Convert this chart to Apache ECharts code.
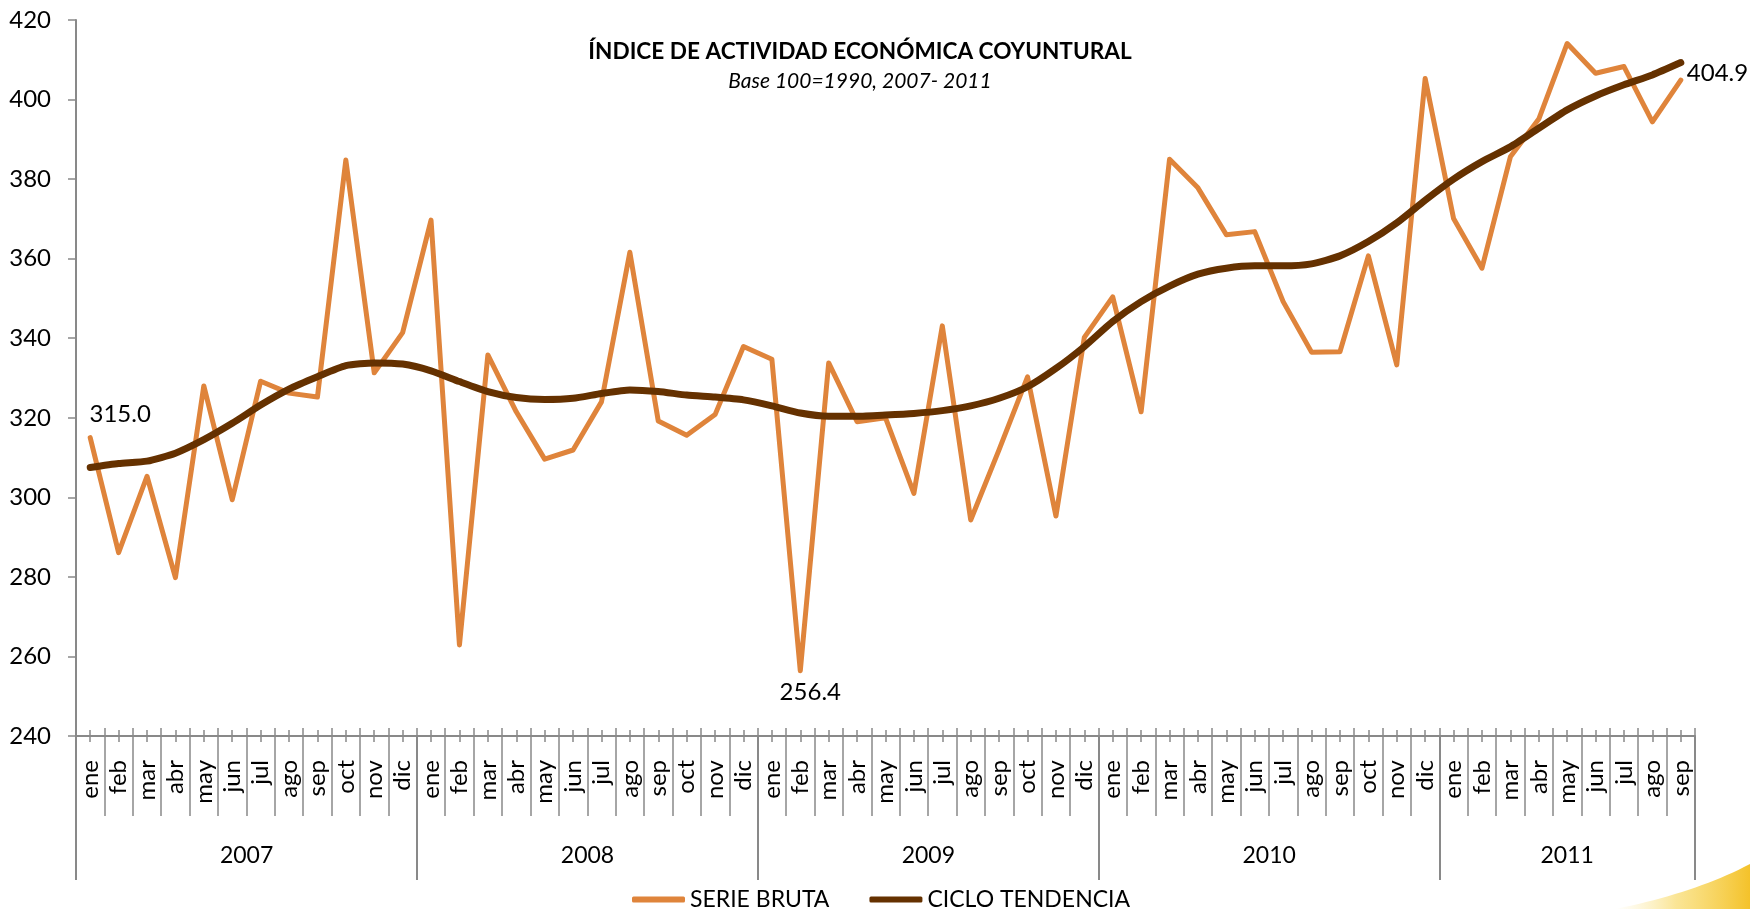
<!DOCTYPE html>
<html>
<head>
<meta charset="utf-8">
<title>Índice de Actividad Económica Coyuntural</title>
<script src="https://cdn.jsdelivr.net/npm/echarts@6/dist/echarts.min.js"></script>
<style>
  html, body { margin: 0; padding: 0; background: #fff; }
  #main { width: 1750px; height: 909px; }
</style>
</head>
<body>
<div id="main"></div>
<script>
// datos del grafico
var years = ['2007', '2008', '2009', '2010', '2011'];
var monthsPerYear = [12, 12, 12, 12, 9];
var monthNames = ['ene', 'feb', 'mar', 'abr', 'may', 'jun', 'jul', 'ago', 'sep', 'oct', 'nov', 'dic'];
var yMin = 240, yMax = 420, yStep = 20;

var serieBruta = [
  315.0, 286.1, 305.3, 279.8, 328.0, 299.4, 329.2, 326.2, 325.2, 384.8, 331.3, 341.4,
  369.7, 262.9, 335.8, 321.5, 309.6, 311.9, 324.0, 361.6, 319.2, 315.6, 320.8, 337.9,
  334.7, 256.4, 333.8, 319.0, 320.0, 301.0, 343.1, 294.3, 312.0, 330.3, 295.3, 340.2,
  350.4, 321.5, 385.0, 377.8, 366.0, 366.8, 349.2, 336.5, 336.6, 360.7, 333.3, 405.3,
  370.1, 357.6, 385.6, 395.1, 414.1, 406.6, 408.3, 394.4, 404.9
];
var cicloTendencia = [
  307.5, 308.5, 309.1, 311.1, 314.5, 318.6, 323.2, 327.2, 330.3, 333.1, 333.8, 333.5,
  331.8, 329.1, 326.6, 325.1, 324.6, 324.9, 326.1, 327.0, 326.6, 325.7, 325.2, 324.5,
  323.0, 321.2, 320.4, 320.4, 320.7, 321.1, 321.8, 323.0, 324.9, 327.8, 332.4, 337.9,
  344.2, 349.2, 353.1, 356.1, 357.6, 358.2, 358.2, 358.7, 360.7, 364.3, 369.0, 374.7,
  380.0, 384.4, 388.1, 392.8, 397.4, 400.9, 403.7, 406.2, 409.3
];

var FONT = 'Lato, "Open Sans", sans-serif';
var GRAY = '#898989';

// categorias: un mes por dato, y el año al que pertenece
var months = [];
var yearCats = [];
var yearStart = [];
var yearLabelIdx = [];
years.forEach(function (y, k) {
  yearStart.push(months.length);
  yearLabelIdx.push(months.length + Math.floor(monthsPerYear[k] / 2));
  for (var m = 0; m < monthsPerYear[k]; m++) {
    months.push(monthNames[m]);
    yearCats.push(y);
  }
});

// etiquetas de valor: primero, minimo y ultimo
var minIdx = serieBruta.indexOf(Math.min.apply(null, serieBruta));
var lastIdx = serieBruta.length - 1;
var labelPos = {};
labelPos[0] = { position: 'top', offset: [30, -5] };
labelPos[minIdx] = { position: 'bottom', offset: [10, 4] };
labelPos[lastIdx] = { position: 'right', offset: [0, -7] };

var brutaData = serieBruta.map(function (v, i) {
  if (!labelPos[i]) return v;
  return {
    value: v,
    symbol: 'circle',
    symbolSize: 2,
    label: {
      show: true,
      position: labelPos[i].position,
      offset: labelPos[i].offset,
      formatter: v.toFixed(1),
      fontSize: 24,
      fontFamily: FONT,
      color: '#000'
    }
  };
});

// adorno amarillo de la esquina (curva cuadratica)
var swoosh = [];
for (var t = 0; t <= 1.0001; t += 0.05) {
  var sx = (1 - t) * (1 - t) * 1615 + 2 * (1 - t) * t * 1695 + t * t * 1750;
  var sy = (1 - t) * (1 - t) * 909 + 2 * (1 - t) * t * 893 + t * t * 864;
  swoosh.push([sx, sy]);
}
swoosh.push([1750, 909]);

var chart = echarts.init(document.getElementById('main'));

var option = {
  backgroundColor: '#fff',
  animation: false,
  title: [
    {
      text: 'ÍNDICE DE ACTIVIDAD ECONÓMICA COYUNTURAL',
      left: 855, top: 35, textAlign: 'center',
      textStyle: { fontSize: 22.6, fontWeight: 'bold', fontFamily: FONT, color: '#000' }
    },
    {
      text: 'Base 100=1990, 2007- 2011',
      left: 855, top: 66, textAlign: 'center',
      textStyle: { fontSize: 21, fontWeight: 'normal', fontStyle: 'italic', fontFamily: FONT, color: '#000' }
    }
  ],
  legend: {
    left: 627, top: 883,
    itemWidth: 53, itemHeight: 6, itemGap: 40,
    data: [
      { name: 'SERIE BRUTA', icon: 'roundRect' },
      { name: 'CICLO TENDENCIA', icon: 'roundRect' }
    ],
    textStyle: { fontSize: 23, fontFamily: FONT, color: '#000' }
  },
  grid: { left: 76, right: 55, top: 20, bottom: 173 },
  xAxis: [
    {
      type: 'category', data: months, position: 'bottom',
      axisLine: { show: true, lineStyle: { color: GRAY, width: 2 } },
      axisTick: { show: true, interval: 0, length: 80, lineStyle: { color: GRAY, width: 1.5 } },
      axisLabel: { interval: 0, rotate: 90, margin: 24, fontSize: 24, fontFamily: FONT, color: '#000' }
    },
    {
      // marcas cortas hacia arriba en los limites de mes
      type: 'category', data: months, position: 'bottom',
      axisLine: { show: false },
      axisTick: { show: true, inside: true, interval: 0, length: 8, lineStyle: { color: GRAY, width: 1.5 } },
      axisLabel: { show: false }
    },
    {
      // marcas en el centro de cada mes
      type: 'category', data: months, position: 'bottom', offset: 6,
      axisLine: { show: false },
      axisTick: { show: true, inside: true, alignWithLabel: true, interval: 0, length: 12, lineStyle: { color: GRAY, width: 1.5 } },
      axisLabel: { show: false }
    },
    {
      // años
      type: 'category', data: yearCats, position: 'bottom',
      axisLine: { show: false },
      axisTick: {
        show: true, length: 144, lineStyle: { color: GRAY, width: 2 },
        interval: function (index) { return yearStart.indexOf(index) >= 0; }
      },
      axisLabel: {
        margin: 108,
        interval: function (index) { return yearLabelIdx.indexOf(index) >= 0; },
        formatter: function (value) {
          var n = monthsPerYear[years.indexOf(value)];
          return n % 2 === 0 ? '{e|' + value + '}' : '{o|' + value + '}';
        },
        rich: {
          e: { fontSize: 23, fontFamily: FONT, color: '#000', padding: [0, 28, 0, 0] },
          o: { fontSize: 23, fontFamily: FONT, color: '#000' }
        }
      }
    }
  ],
  yAxis: {
    type: 'value', min: yMin, max: yMax, interval: yStep,
    axisLine: { show: true, lineStyle: { color: GRAY, width: 2 } },
    axisTick: { show: true, length: 8, lineStyle: { color: GRAY, width: 1.5 } },
    splitLine: { show: false },
    axisLabel: { margin: 25, fontSize: 24, fontFamily: FONT, color: '#000' }
  },
  series: [
    {
      name: 'SERIE BRUTA', type: 'line', xAxisIndex: 0,
      data: brutaData, symbol: 'none', showSymbol: true,
      itemStyle: { color: '#DF843B' },
      lineStyle: { color: '#DF843B', width: 5, cap: 'round', join: 'round' }
    },
    {
      name: 'CICLO TENDENCIA', type: 'line', xAxisIndex: 0,
      data: cicloTendencia, symbol: 'none', smooth: 0.2,
      itemStyle: { color: '#653100' },
      lineStyle: { color: '#653100', width: 7, cap: 'round', join: 'round' }
    }
  ],
  graphic: [
    {
      type: 'polygon', z: -10, silent: true,
      shape: { points: swoosh },
      style: {
        fill: {
          type: 'linear', x: 0, y: 0, x2: 1, y2: 0,
          colorStops: [
            { offset: 0, color: 'rgba(250,228,140,0)' },
            { offset: 0.45, color: 'rgba(247,212,80,0.6)' },
            { offset: 1, color: '#F4C22A' }
          ]
        }
      }
    }
  ]
};

chart.setOption(option);
</script>
</body>
</html>
